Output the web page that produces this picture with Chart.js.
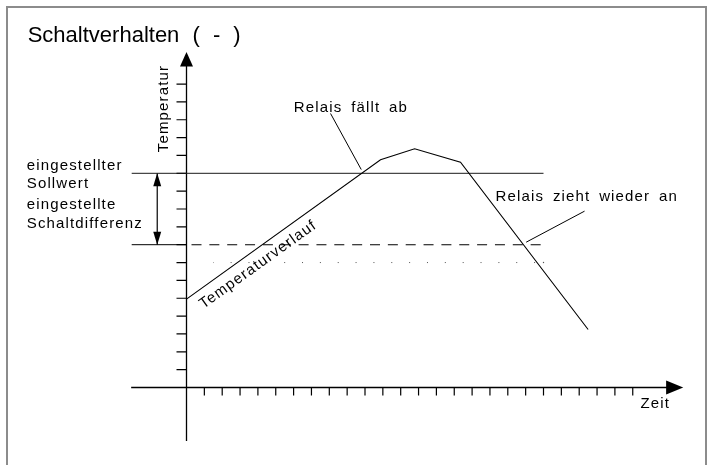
<!DOCTYPE html>
<html>
<head>
<meta charset="utf-8">
<script src="https://cdn.jsdelivr.net/npm/chart.js@4.4.1/dist/chart.umd.min.js"></script>
<style>
  html, body { margin: 0; padding: 0; background: #fff; }
  #wrap { width: 711px; height: 465px; }
</style>
</head>
<body>
<div id="wrap"><canvas id="chart" width="711" height="465"></canvas></div>
<script>
// Temperaturverlauf (Zeit / Temperatur in Rastereinheiten)
const curveTime = [0, 10.87, 12.78, 15.35, 22.5];
const curveTemp = [4.95, 12.76, 13.37, 12.62, 3.25];

// Sollwert, Schaltpunkt, punktierte Linie
const setpoint = 12;
const switchOn = 8;
const dottedLevel = 7;
const refLineX = [-3.07, 20];
const dottedX = [1.5, 20];

// Achsenteilung (ohne Beschriftung)
const xTicks = [1, 2, 3, 4, 5, 6, 7, 8, 9, 10, 11, 12, 13, 14, 15, 16, 17, 18, 19, 20, 21, 22, 23, 24, 25];
const yTicks = [1, 2, 3, 4, 5, 6, 7, 8, 9, 10, 11, 12, 13, 14, 15, 16, 17];

// Hinweislinien
const leaderFallX = [8.07, 9.79];
const leaderFallY = [15.35, 12.21];
const leaderOnX = [22.3, 19.03];
const leaderOnY = [9.88, 8.14];
const diffArrowX = -1.64;

// Texte
const titleText = "Schaltverhalten ( - )";
const yAxisText = "Temperatur";
const xAxisText = "Zeit";
const curveText = "Temperaturverlauf";
const fallText = "Relais fällt ab";
const onText = "Relais zieht wieder an";
const leftLabels = ["eingestellter", "Sollwert", "eingestellte", "Schaltdifferenz"];
const leftLabelY = [12.18, 11.19, 9.98, 8.95];

// pixel grid of the drawing
const UNIT = 17.85;
const ORIGIN_X = 186.5, ORIGIN_Y = 387.5;
const X_MIN = -4, X_MAX = 28, Y_MIN = -4, Y_MAX = 19.5;

const pts = (xs, ys) => xs.map((x, i) => ({ x, y: Array.isArray(ys) ? ys[i] : ys }));

const line = (data, extra) => Object.assign({
  data, borderColor: "#000", borderWidth: 1, pointRadius: 0, tension: 0, fill: false
}, extra || {});

const schematic = {
  id: "schematic",
  beforeDraw(chart) {
    const ctx = chart.ctx;
    ctx.save();
    // frame
    ctx.strokeStyle = "#8c8c8c";
    ctx.lineWidth = 2;
    ctx.beginPath();
    ctx.moveTo(7, 480); ctx.lineTo(7, 7); ctx.lineTo(706, 7); ctx.lineTo(706, 480);
    ctx.stroke();
    // title
    ctx.fillStyle = "#000";
    ctx.font = '22px "Liberation Sans", Arial, sans-serif';
    ctx.textBaseline = "alphabetic";
    ctx.wordSpacing = "7px";
    ctx.fillText(titleText, 27.7, 41.5);
    ctx.wordSpacing = "0px";
    ctx.restore();
  },
  beforeDatasetsDraw(chart) {
    const ctx = chart.ctx;
    const X = v => chart.scales.x.getPixelForValue(v);
    const Y = v => chart.scales.y.getPixelForValue(v);
    ctx.save();
    ctx.strokeStyle = "#000";
    ctx.fillStyle = "#000";
    ctx.lineWidth = 1.3;
    ctx.beginPath();
    ctx.moveTo(X(0), Y(-3)); ctx.lineTo(X(0), Y(18.2));
    ctx.moveTo(X(-3.1), Y(0)); ctx.lineTo(X(27), Y(0));
    ctx.stroke();
    // arrowheads
    ctx.beginPath();
    ctx.moveTo(X(0), Y(18.79)); ctx.lineTo(X(0) - 6.5, Y(17.98)); ctx.lineTo(X(0) + 6.5, Y(17.98));
    ctx.closePath(); ctx.fill();
    ctx.beginPath();
    ctx.moveTo(X(27.83), Y(0)); ctx.lineTo(X(26.87), Y(0) - 7); ctx.lineTo(X(26.87), Y(0) + 7);
    ctx.closePath(); ctx.fill();
    // ticks
    ctx.lineWidth = 1.2;
    ctx.beginPath();
    yTicks.forEach(v => { ctx.moveTo(X(0) - 10, Y(v)); ctx.lineTo(X(0), Y(v)); });
    xTicks.forEach(v => { ctx.moveTo(X(v), Y(0)); ctx.lineTo(X(v), Y(0) + 8); });
    ctx.stroke();
    // Schaltdifferenz arrowheads
    const ax = X(diffArrowX);
    ctx.beginPath();
    ctx.moveTo(ax, Y(setpoint)); ctx.lineTo(ax - 4, Y(setpoint) + 13); ctx.lineTo(ax + 4, Y(setpoint) + 13);
    ctx.closePath(); ctx.fill();
    ctx.beginPath();
    ctx.moveTo(ax, Y(switchOn)); ctx.lineTo(ax - 4, Y(switchOn) - 13); ctx.lineTo(ax + 4, Y(switchOn) - 13);
    ctx.closePath(); ctx.fill();
    ctx.restore();
  },
  afterDatasetsDraw(chart) {
    const ctx = chart.ctx;
    const X = v => chart.scales.x.getPixelForValue(v);
    const Y = v => chart.scales.y.getPixelForValue(v);
    ctx.save();
    ctx.fillStyle = "#000";
    ctx.font = '15px "Liberation Sans", Arial, sans-serif';
    ctx.letterSpacing = "1.15px";
    ctx.wordSpacing = "3.5px";
    ctx.textBaseline = "alphabetic";
    ctx.textAlign = "left";
    leftLabels.forEach((t, i) => ctx.fillText(t, X(-8.95), Y(leftLabelY[i])));
    ctx.fillText(fallText, X(6.01), Y(15.42));
    ctx.fillText(onText, X(17.31), Y(10.44));
    ctx.fillText(xAxisText, X(25.43), Y(-1.14));
    // rotated y axis title
    ctx.save();
    ctx.translate(X(-1.03), Y(13.18));
    ctx.rotate(-Math.PI / 2);
    ctx.fillText(yAxisText, 0, 0);
    ctx.restore();
    // text along the rising curve
    const x0 = X(curveTime[0]), y0 = Y(curveTemp[0]);
    const ang = Math.atan2(Y(curveTemp[1]) - y0, X(curveTime[1]) - x0);
    ctx.save();
    ctx.translate(x0, y0);
    ctx.rotate(ang);
    ctx.fillText(curveText, 8, 18);
    ctx.restore();
    ctx.letterSpacing = "0px";
    ctx.wordSpacing = "0px";
    ctx.restore();
  }
};

new Chart(document.getElementById("chart"), {
  type: "line",
  data: {
    datasets: [
      line(pts(curveTime, curveTemp), { borderWidth: 1.1 }),
      line(pts(refLineX, setpoint), { borderColor: "#1a1a1a" }),
      line(pts([refLineX[0], 0], switchOn)),
      line(pts([0, refLineX[1]], switchOn), { borderDash: [10, 7.85], borderDashOffset: 12.85, borderWidth: 1.1 }),
      line(pts(dottedX, dottedLevel), {
        borderColor: "#555", borderDash: [1, 16.85], borderDashOffset: 0.5,
        pointRadius: [0, 0.7], pointBorderWidth: 0, pointBackgroundColor: "#555"
      }),
      line(pts(leaderFallX, leaderFallY)),
      line(pts(leaderOnX, leaderOnY)),
      line(pts([diffArrowX, diffArrowX], [setpoint, switchOn]), { borderWidth: 1.2 })
    ]
  },
  options: {
    responsive: false,
    animation: false,
    events: [],
    layout: {
      autoPadding: false,
      padding: {
        left: ORIGIN_X + X_MIN * UNIT,
        right: 711 - (ORIGIN_X + X_MAX * UNIT),
        top: ORIGIN_Y - Y_MAX * UNIT,
        bottom: 465 - (ORIGIN_Y - Y_MIN * UNIT)
      }
    },
    plugins: { legend: { display: false }, tooltip: { enabled: false }, title: { display: false } },
    scales: {
      x: { type: "linear", min: X_MIN, max: X_MAX, display: false },
      y: { type: "linear", min: Y_MIN, max: Y_MAX, display: false }
    }
  },
  plugins: [schematic]
});
</script>
</body>
</html>
